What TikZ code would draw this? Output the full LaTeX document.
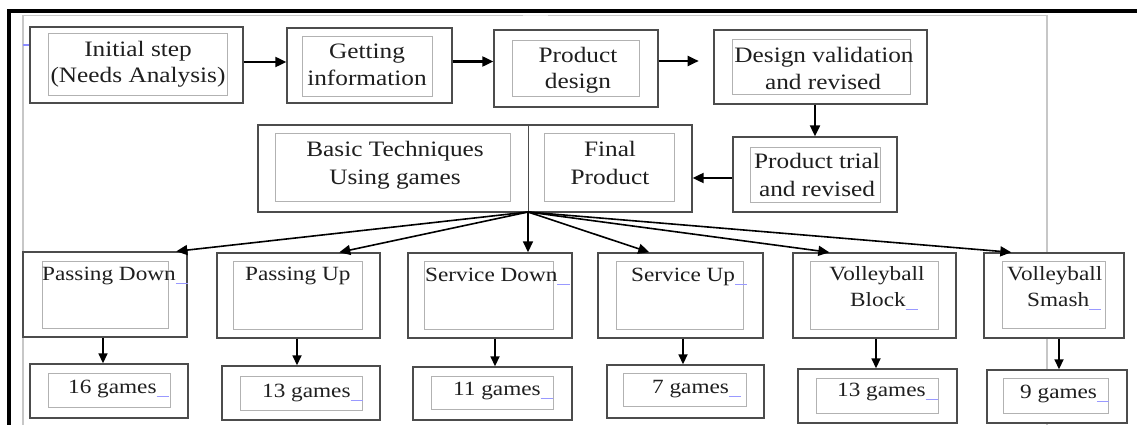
\documentclass[tikz,border=0pt]{standalone}
\usepackage{fontspec}
\setmainfont{Liberation Serif}
\usetikzlibrary{arrows.meta,fit}
\newcommand\bx[6]{\node[#1, fit={(#3,#4) (#5,#6)}] (#2) {};}
\newcommand\bmark{\textcolor{blue!40}{\rule[-4pt]{10.5pt}{1.3pt}}}
\newcommand\wtxt[1]{\scalebox{1.15}[1]{#1}}
\begin{document}
\begin{tikzpicture}[x=1pt,y=-1pt,
  outer/.style={draw=black!70, fill=white, line width=1.4pt, inner sep=0pt},
  inner/.style={draw=black!30, line width=1pt, inner sep=0pt},
  top/.style={font=\fontsize{22}{27}\selectfont, text=black!88, inner sep=0pt, anchor=base},
  bot/.style={font=\fontsize{20.2}{26}\selectfont, text=black!88, inner sep=0pt, anchor=base west},
  arr/.style={-{Triangle[length=11pt,width=10pt]}, line width=2.2pt},
  fan/.style={-{Triangle[length=11pt,width=10pt]}, line width=1.6pt},
  arrs/.style={-{Triangle[length=10pt,width=9pt]}, line width=1.7pt},
]
\useasboundingbox (0,0) rectangle (1137,425);
% page frame
\draw[black!22, line width=1.8pt] (23,425) -- (23,15.5) -- (1047,15.5) -- (1047,425);
\draw[black!8, line width=1.8pt] (523,15.5) -- (548,15.5);
\draw[line width=3.2pt] (9,425) -- (9,11) -- (1137,11);
\draw[blue!45, line width=1.3pt] (23,45) -- (31,45);
% top row
\bx{outer}{b1}{30}{27}{243}{103}
\bx{inner}{b1i}{48}{34}{227}{96}
\bx{outer}{b2}{287}{28}{452}{103}
\bx{inner}{b2i}{302}{37}{432}{97}
\bx{outer}{b3}{494}{30}{658}{107}
\bx{inner}{b3i}{512}{41}{639}{97}
\bx{outer}{b4}{714}{30}{927}{104}
\bx{inner}{b4i}{732}{40}{910}{95}
\bx{outer}{b5}{733}{137}{897}{212}
\bx{inner}{b5i}{750}{147}{880}{202}
% middle
\bx{outer}{mid}{258}{125}{692}{212}
\coordinate (hub) at (528,212);
\draw[black!70, line width=1pt] (hub |- mid.north) -- (hub);
\bx{inner}{midl}{275}{134}{510}{201}
\bx{inner}{midr}{544}{134}{674}{201}
% bottom row
\bx{outer}{pd}{23}{252}{187}{337}
\bx{inner}{pdi}{42}{261}{168}{328}
\bx{outer}{pu}{217}{253}{380}{338}
\bx{inner}{pui}{233}{261}{362}{329}
\bx{outer}{sd}{408}{253}{572}{338}
\bx{inner}{sdi}{424}{261}{553}{329}
\bx{outer}{su}{598}{253}{763}{338}
\bx{inner}{sui}{616}{261}{743}{329}
\bx{outer}{vb}{793}{253}{956}{338}
\bx{inner}{vbi}{810}{261}{938}{329}
\bx{outer}{vs}{984}{253}{1124}{338}
\bx{inner}{vsi}{1002}{261}{1105}{328}
% game boxes
\bx{outer}{g1}{30}{364}{188}{418}
\bx{inner}{g1i}{48}{373}{170}{407}
\bx{outer}{g2}{222}{366}{380}{420}
\bx{inner}{g2i}{240}{376}{362}{410}
\bx{outer}{g3}{413}{367}{572}{420}
\bx{inner}{g3i}{431}{376}{553}{409}
\bx{outer}{g4}{607}{365}{764}{418}
\bx{inner}{g4i}{623}{373}{746}{406}
\bx{outer}{g5}{798}{369}{957}{423}
\bx{inner}{g5i}{816}{378}{938}{413}
\bx{outer}{g6}{987}{370}{1127}{423}
\bx{inner}{g6i}{1003}{378}{1108}{413}
% texts top
\node[top] (t1a) at (138,57) {\wtxt{Initial step}};
\node[top] (t1b) at (138,83) {\wtxt{(Needs Analysis)}};
\node[top] (t2a) at (367,59) {\wtxt{Getting}};
\node[top] (t2b) at (367,86) {\wtxt{information}};
\node[top] (t3a) at (578,63) {\wtxt{Product}};
\node[top] (t3b) at (578,89) {\wtxt{design}};
\node[top] (t4a) at (824,63) {\wtxt{Design validation}};
\node[top] (t4b) at (823,90) {\wtxt{and revised}};
\node[top] (t5a) at (817,168) {\wtxt{Product trial}};
\node[top] (t5b) at (817,196) {\wtxt{and revised}};
\node[top] (tma) at (395,157) {\wtxt{Basic Techniques}};
\node[top] (tmb) at (395,184) {\wtxt{Using games}};
\node[top] (tmc) at (610,157) {\wtxt{Final}};
\node[top] (tmd) at (610,184) {\wtxt{Product}};
% texts bottom
\node[bot] (tpd) at (42,280) {\wtxt{Passing Down\bmark}};
\node[bot] (tpu) at (245,280) {\wtxt{Passing Up}};
\node[bot] (tsd) at (425,281) {\wtxt{Service Down\bmark}};
\node[bot] (tsu) at (631,281) {\wtxt{Service Up\bmark}};
\node[bot, anchor=base] (tvba) at (877,280) {\wtxt{Volleyball}};
\node[bot] (tvbb) at (850,306) {\wtxt{Block\bmark}};
\node[bot] (tvsa) at (1007,280) {\wtxt{Volleyball}};
\node[bot] (tvsb) at (1027,306) {\wtxt{Smash\bmark}};
\node[bot] (tg1) at (68,393) {\wtxt{16 games\bmark}};
\node[bot] (tg2) at (262,397) {\wtxt{13 games\bmark}};
\node[bot] (tg3) at (453,395) {\wtxt{11 games\bmark}};
\node[bot] (tg4) at (652,393) {\wtxt{7 games\bmark}};
\node[bot] (tg5) at (837,396) {\wtxt{13 games\bmark}};
\node[bot] (tg6) at (1020,398) {\wtxt{9 games\bmark}};
% arrows top
\draw[arr] ([yshift=3pt]b1.east) -- ([yshift=3pt]b1.east -| b2.west);
\draw[arr] ([yshift=4pt]b2.east) -- ([yshift=4pt]b2.east -| b3.west);
\draw[arr] ([yshift=7.5pt]b3.east) -- ++(40,0);
\draw[arr] (b4.south -| b5.north) -- (b5.north);
\draw[arr] ([yshift=-3.5pt]b5.west) -- ([yshift=-3.5pt]b5.west -| mid.east);
% fan
\draw[fan] (hub) -- ([xshift=154pt]pd.north west);
\draw[fan] (hub) -- ([xshift=123pt]pu.north west);
\draw[fan] (hub) -- (sd.north -| hub);
\draw[fan] (hub) -- ([xshift=52pt]su.north west);
\draw[fan] (hub) -- ([xshift=37pt]vb.north west);
\draw[fan] (hub) -- ([xshift=28pt]vs.north west);
% down arrows
\draw[arrs] ([xshift=-2pt]pd.south) -- ([xshift=-2pt]pd.south |- g1.north);
\draw[arrs] ([xshift=-1.5pt]pu.south) -- ([xshift=-1.5pt]pu.south |- g2.north);
\draw[arrs] ([xshift=5pt]sd.south) -- ([xshift=5pt]sd.south |- g3.north);
\draw[arrs] ([xshift=2.5pt]su.south) -- ([xshift=2.5pt]su.south |- g4.north);
\draw[arrs] ([xshift=1.5pt]vb.south) -- ([xshift=1.5pt]vb.south |- g5.north);
\draw[arrs] ([xshift=5pt]vs.south) -- ([xshift=5pt]vs.south |- g6.north);
\end{tikzpicture}
\end{document}
